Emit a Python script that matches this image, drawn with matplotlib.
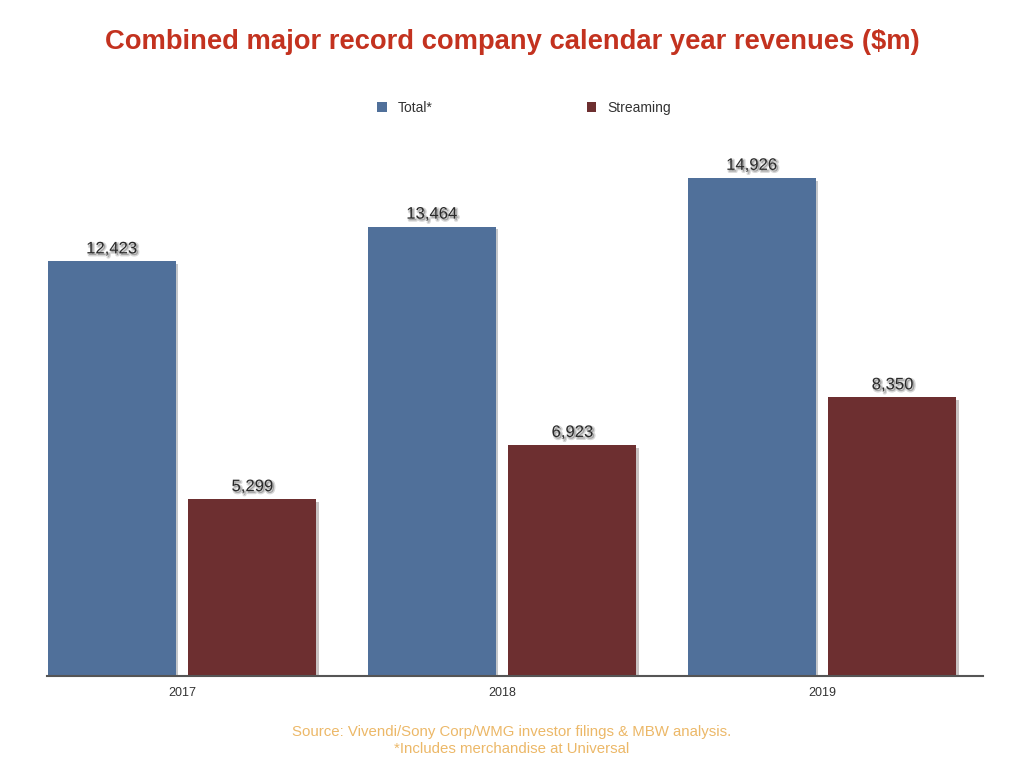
import numpy as np
import matplotlib.pyplot as plt
import matplotlib.patheffects as pe

years = ['2017', '2018', '2019']
total = [12423, 13464, 14926]
streaming = [5299, 6923, 8350]

blue = '#50709a'
red = '#6d2f30'

plt.rcParams['font.family'] = ['Liberation Sans', 'DejaVu Sans']

fig = plt.figure(figsize=(10.24, 7.68), dpi=100)
ax = fig.add_axes([47 / 1024, 1 - 676 / 768, 936 / 1024, 536 / 768])

x = np.arange(len(years))
w = 0.4
off = 0.22
b1 = ax.bar(x - off, total, width=w, color=blue, label='Total*')
b2 = ax.bar(x + off, streaming, width=w, color=red, label='Streaming')

# legend first so the handles don't pick up the bar shadows
fig.legend(loc='center', bbox_to_anchor=(524 / 1024, 1 - 108 / 768), ncol=2,
           frameon=False, fontsize=10, handlelength=0.7, handleheight=0.7,
           handletextpad=0.8, columnspacing=11.1, labelcolor='#333333')

shadow = [pe.SimplePatchShadow(offset=(2, -2), alpha=0.25), pe.Normal()]
for b in list(b1) + list(b2):
    b.set_path_effects(shadow)

# value labels with a soft grey drop shadow
for bars in (b1, b2):
    for b in bars:
        t = ax.text(b.get_x() + b.get_width() / 2, b.get_height() + 150,
                    f'{int(b.get_height()):,}', ha='center', va='bottom',
                    fontsize=12, color='#2a2a2a')
        t.set_path_effects([pe.Stroke(linewidth=2, foreground='#aaaaaa', alpha=0.45,
                                      offset=(1.2, -1.2)), pe.Normal()])

ax.set_xlim(-0.422, 2.503)
ax.set_ylim(0, 16060)
ax.set_xticks(x)
ax.set_xticklabels(years, fontsize=9, color='#333333')
ax.tick_params(axis='x', length=0, pad=8)
ax.set_yticks([])
for s in ['top', 'right', 'left']:
    ax.spines[s].set_visible(False)
ax.spines['bottom'].set_color('#555555')
ax.spines['bottom'].set_linewidth(1.5)

fig.text(0.5, 1 - 42 / 768, 'Combined major record company calendar year revenues ($m)',
         ha='center', va='center', fontsize=19.7, fontweight='bold', color='#c3321f')
fig.text(0.5, 1 - 732 / 768, 'Source: Vivendi/Sony Corp/WMG investor filings & MBW analysis.',
         ha='center', va='center', fontsize=10.8, color='#ecb868')
fig.text(0.5, 1 - 749 / 768, '*Includes merchandise at Universal',
         ha='center', va='center', fontsize=10.8, color='#ecb868')

fig.savefig('out.png', dpi=100)
